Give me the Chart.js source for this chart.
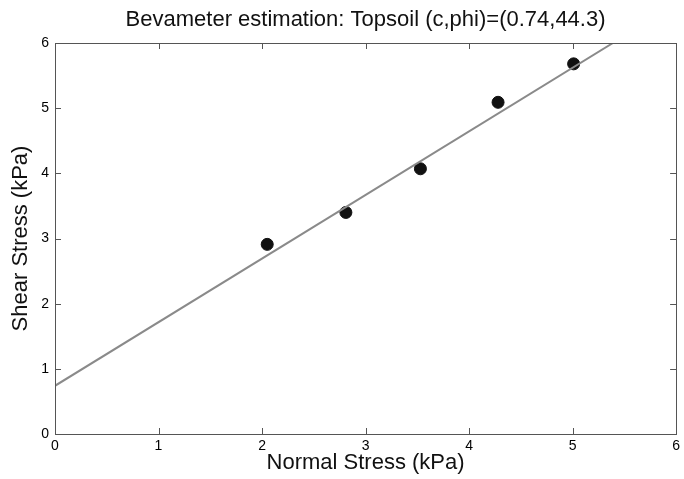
<!DOCTYPE html>
<html>
<head>
<meta charset="utf-8">
<script src="https://cdn.jsdelivr.net/npm/chart.js@4"></script>
<style>
html,body{margin:0;padding:0;background:#fff;}
#wrap{width:684px;height:479px;position:relative;}
</style>
</head>
<body>
<div id="wrap"><canvas id="c" width="684" height="479"></canvas></div>
<script>
const titleText = 'Bevameter estimation: Topsoil (c,phi)=(0.74,44.3)';
const xLabel = 'Normal Stress (kPa)';
const yLabel = 'Shear Stress (kPa)';
const normalStress = [2.05, 2.81, 3.53, 4.28, 5.01];
const shearStress = [2.91, 3.40, 4.07, 5.09, 5.68];
const fitX = [0, 5.39];
const fitY = [0.74, 6.0];
const xTicks = [0, 1, 2, 3, 4, 5, 6];
const yTicks = [0, 1, 2, 3, 4, 5, 6];

const FONT = "'Liberation Sans', Arial, sans-serif";

const boxPlugin = {
  id: 'matlabBox',
  afterDatasetsDraw(chart) {
    const {ctx, chartArea: a, scales: {x, y}} = chart;
    ctx.save();
    ctx.strokeStyle = '#555';
    ctx.lineWidth = 1;
    ctx.strokeRect(Math.round(a.left) + 0.5, Math.round(a.top) + 0.5,
                   Math.round(a.right - a.left), Math.round(a.bottom - a.top));
    const L = 6;
    ctx.beginPath();
    xTicks.forEach(v => {
      const px = Math.round(x.getPixelForValue(v)) + 0.5;
      ctx.moveTo(px, a.bottom); ctx.lineTo(px, a.bottom - L);
      ctx.moveTo(px, a.top); ctx.lineTo(px, a.top + L);
    });
    yTicks.forEach(v => {
      const py = Math.round(y.getPixelForValue(v)) + 0.5;
      ctx.moveTo(a.left, py); ctx.lineTo(a.left + L, py);
      ctx.moveTo(a.right, py); ctx.lineTo(a.right - L, py);
    });
    ctx.stroke();
    // title centred over the plot area
    ctx.fillStyle = '#111';
    ctx.font = '22px ' + FONT;
    ctx.textAlign = 'center';
    ctx.textBaseline = 'middle';
    ctx.fillText(titleText, (a.left + a.right) / 2, 20);
    ctx.restore();
  }
};

new Chart(document.getElementById('c'), {
  type: 'scatter',
  data: {
    datasets: [
      {
        label: 'fit',
        data: fitX.map((v, i) => ({x: v, y: fitY[i]})),
        showLine: true,
        borderColor: '#8a8a8a',
        borderWidth: 2,
        pointRadius: 0,
        fill: false
      },
      {
        label: 'data',
        data: normalStress.map((v, i) => ({x: v, y: shearStress[i]})),
        backgroundColor: '#111',
        borderColor: '#111',
        pointRadius: 6,
        pointHoverRadius: 6
      }
    ]
  },
  options: {
    responsive: false,
    animation: false,
    events: [],
    layout: {padding: {left: 0, right: 7, top: 43, bottom: 0}},
    plugins: {
      legend: {display: false},
      tooltip: {enabled: false},
      title: {display: false}
    },
    scales: {
      x: {
        type: 'linear', min: 0, max: 6,
        afterBuildTicks: s => { s.ticks = xTicks.map(v => ({value: v})); },
        afterFit: s => { s.height = 45; },
        grid: {display: false, tickLength: 0},
        border: {display: false},
        ticks: {color: '#000', font: {family: FONT, size: 14}, padding: 4, maxRotation: 0},
        title: {display: true, text: xLabel, color: '#111', font: {family: FONT, size: 22}, padding: {top: 0, bottom: 3}}
      },
      y: {
        type: 'linear', min: 0, max: 6,
        afterBuildTicks: s => { s.ticks = yTicks.map(v => ({value: v})); },
        afterFit: s => { s.width = 55; },
        grid: {display: false, tickLength: 0},
        border: {display: false},
        ticks: {color: '#000', font: {family: FONT, size: 14}, padding: 6},
        title: {display: true, text: yLabel, color: '#111', font: {family: FONT, size: 22}, padding: {top: 8, bottom: 4}}
      }
    }
  },
  plugins: [boxPlugin]
});
</script>
</body>
</html>
